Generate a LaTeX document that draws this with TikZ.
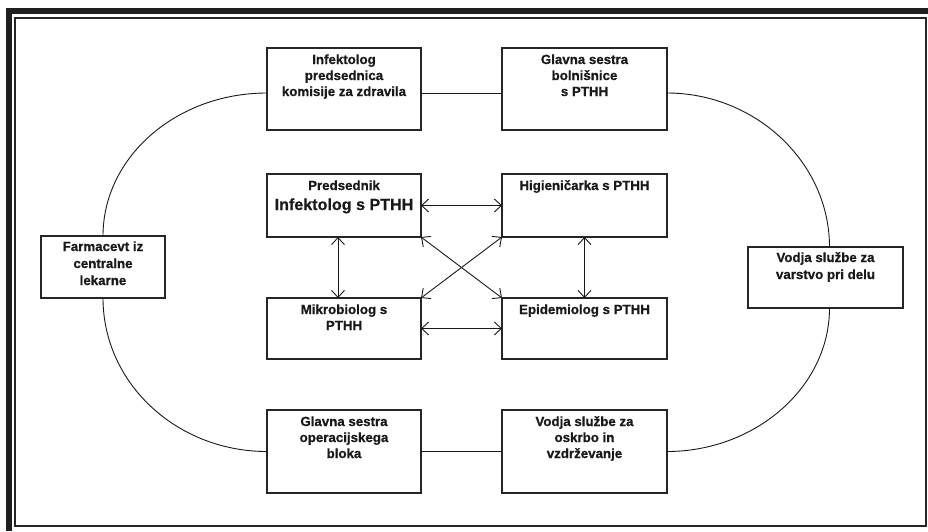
\documentclass[tikz,border=0pt]{standalone}
\usepackage{fontspec}
\setmainfont{Liberation Sans}[BoldFeatures={FakeBold=0.6}]
\usetikzlibrary{arrows.meta}
\begin{document}
\begin{tikzpicture}[x=1pt,y=-1pt,
  box/.style={draw=black!85,line width=1.7pt,inner sep=0pt,outer sep=0pt,fill=white},
  link/.style={line width=0.9pt,black!90},
  arr/.style={line width=0.9pt,black!90,{Straight Barb[length=7pt,width=13pt]}-{Straight Barb[length=7pt,width=13pt]}},
  txt/.style={font=\fontsize{13.3}{16}\selectfont\bfseries,text=black!90}
]
\newcommand{\bx}[4]{\parbox[c][#2pt][t]{#1pt}{\centering\rule{0pt}{#3pt}#4}}
\useasboundingbox (0,0) rectangle (928,531);
% frame
\fill[black!88] (6,8) rectangle (928,14);
\fill[black!88] (6,8) rectangle (12,531);
\draw[line width=1.5pt,black!85] (15,18) rectangle (926,526);
% boxes
\node[box,txt] (inf) at (344,89) {\bx{154}{82}{16}{Infektolog\\predsednica\\komisije za zdravila}};
\node[box,txt] (gsb) at (584.5,89) {\bx{165}{82}{16}{Glavna sestra\\bolnišnice\\s PTHH}};
\node[box,txt] (pred) at (344,205.5) {\bx{154}{63}{16}{Predsednik\\[4pt]{\fontsize{16.1}{20}\selectfont Infektolog s PTHH}}};
\node[box,txt] (hig) at (584.5,205.5) {\bx{165}{63}{16}{Higieničarka s PTHH}};
\node[box,txt] (mik) at (344,328.5) {\bx{154}{61}{16}{Mikrobiolog s\\PTHH}};
\node[box,txt] (epi) at (584.5,328.5) {\bx{165}{61}{16}{Epidemiolog s PTHH}};
\node[box,txt] (gso) at (344,451.5) {\bx{154}{83}{16}{Glavna sestra\\operacijskega\\bloka}};
\node[box,txt] (vos) at (584.5,451.5) {\bx{165}{83}{16}{Vodja službe za\\oskrbo in\\vzdrževanje}};
\node[box,txt,font=\fontsize{13.3}{17}\selectfont\bfseries] (far) at (103,267) {\bx{124}{62}{15}{Farmacevt iz\\centralne\\lekarne}};
\node[box,txt,font=\fontsize{13.3}{17}\selectfont\bfseries] (vvd) at (825.5,277.5) {\bx{155}{61}{15}{Vodja službe za\\varstvo pri delu}};
% ring connectors
\draw[link] ([yshift=-4pt]inf.east) -- ([yshift=-4pt]gsb.west);
\draw[link] (gso.east) -- (vos.west);
\draw[link] ([yshift=-4pt]inf.west) .. controls +(-90.6,0) and +(0,-79) .. (far.north);
\draw[link] (far.south) .. controls +(0,85) and +(-90.6,0) .. (gso.west);
\draw[link] ([yshift=-4pt]gsb.east) .. controls +(88,0) and +(0,-85) .. ([xshift=4pt]vvd.north);
\draw[link] ([xshift=4pt]vvd.south) .. controls +(0,79.5) and +(88,0) .. (vos.east);
% inner arrows
\draw[arr] (pred.east) -- (hig.west);
\draw[arr] (mik.east) -- (epi.west);
\draw[arr] ([xshift=-6pt]pred.south) -- ([xshift=-6pt]mik.north);
\draw[arr] (hig.south) -- (epi.north);
\draw[arr] (pred.south east) -- (epi.north west);
\draw[arr] (hig.south west) -- (mik.north east);
\end{tikzpicture}
\end{document}
